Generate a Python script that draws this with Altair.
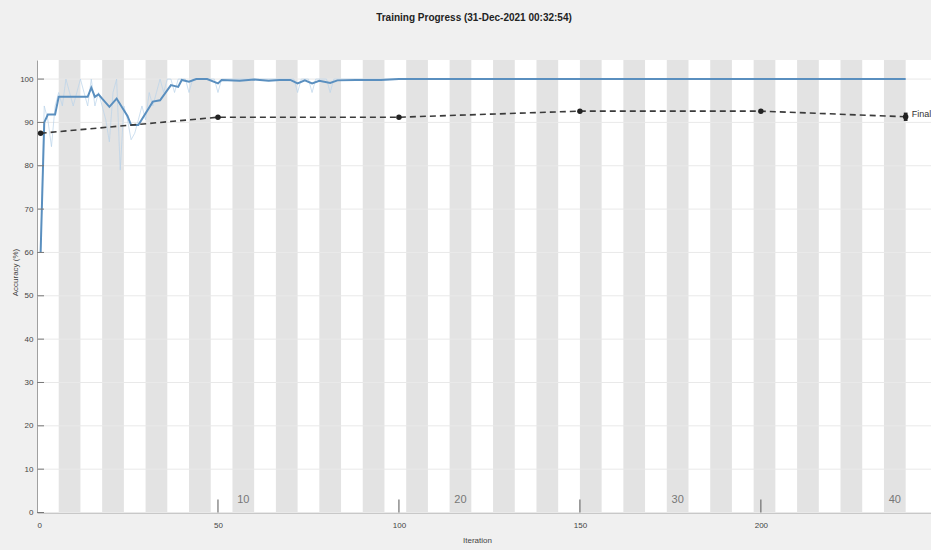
import altair as alt
import pandas as pd

TITLE = "Training Progress (31-Dec-2021 00:32:54)"
FONT = "Liberation Sans"

# Smoothed training accuracy (vertices of the polyline)
smooth_iter = [1, 2, 3, 5, 6, 14, 15, 16, 17, 18, 20, 22, 24, 25, 26, 28, 32, 34,
               37, 39, 40, 42, 44, 47, 50, 51, 56, 60, 64, 67, 70, 72, 74, 76, 78,
               81, 83, 88, 95, 100, 110, 240]
smooth_acc = [60, 90, 91.8, 91.8, 95.9, 95.9, 98.0, 95.9, 96.5, 95.5, 93.6, 95.5,
              92.8, 91.5, 89.4, 89.4, 94.8, 95.1, 98.6, 98.2, 99.8, 99.4, 100, 100,
              99.0, 99.8, 99.6, 99.9, 99.6, 99.8, 99.8, 99.0, 99.7, 99.0, 99.6,
              99.1, 99.7, 99.8, 99.8, 100, 100, 100]

# Raw mini-batch training accuracy
raw_iter = [1, 2, 3, 4, 5, 6, 7, 8, 9, 10, 11, 12, 13, 14, 15, 16, 17, 18, 19, 20,
            21, 22, 23, 24, 25, 26, 27, 28, 29, 30, 31, 32, 33, 34, 35, 36, 37, 38,
            39, 40, 41, 42, 43, 44, 45, 46, 47, 48, 49, 50, 51, 71, 72, 73, 75, 76,
            77, 80, 81, 82, 240]
raw_acc = [60, 93.8, 90.6, 84.4, 93.8, 96.9, 93.8, 100, 96.9, 93.8, 96.9, 100,
           96.9, 93.8, 100, 93.8, 96.9, 93.8, 90.6, 85.5, 96.9, 100, 79.0, 93.8,
           90.6, 86.0, 87.5, 90.6, 93.8, 90.6, 96.9, 93.8, 96.9, 100, 96.9, 100,
           100, 96.9, 100, 100, 100, 96.9, 100, 100, 100, 100, 100, 100, 100, 96.9,
           100, 100, 96.9, 100, 100, 96.9, 100, 100, 96.9, 100, 100]

# Validation accuracy
val_iter = [1, 50, 100, 150, 200, 240]
val_acc = [87.5, 91.2, 91.2, 92.6, 92.6, 91.3]

epochs = list(range(1, 41))
iters_per_epoch = 6
epoch_labels = [10, 20, 30, 40]
x_ticks = [0, 50, 100, 150, 200]
x_inner_ticks = [50, 100, 150, 200]
y_ticks = [0, 10, 20, 30, 40, 50, 60, 70, 80, 90, 100]

W, H = 894, 452.5
X_DOMAIN = [0, 247]
Y_DOMAIN = [0, 104.4]


def xenc(field):
    return alt.X(
        f"{field}:Q",
        scale=alt.Scale(domain=X_DOMAIN, nice=False, zero=False),
        axis=alt.Axis(values=x_ticks, ticks=False, grid=False, domainColor="#a0a0a0",
                      labelFontSize=8, labelColor="#444", labelPadding=9, labelFont=FONT,
                      title="Iteration", titleFontSize=8, titleFontWeight="normal",
                      titleColor="#444", titleFont=FONT, titleX=440, titleY=24),
    )


def yenc(field):
    return alt.Y(
        f"{field}:Q",
        scale=alt.Scale(domain=Y_DOMAIN, nice=False, zero=False),
        axis=alt.Axis(values=y_ticks, ticks=False, grid=False, domainColor="#a0a0a0",
                      labelFontSize=8, labelColor="#444", labelPadding=4, labelFont=FONT,
                      title="Accuracy (%)", titleFontSize=8, titleFontWeight="normal",
                      titleColor="#444", titleFont=FONT, titleX=-18, titleY=212),
    )


epoch_df = pd.DataFrame({"epoch": epochs})
epoch_df["start"] = (epoch_df["epoch"] - 1) * iters_per_epoch
epoch_df["end"] = epoch_df["epoch"] * iters_per_epoch
shaded = epoch_df[epoch_df["epoch"] % 2 == 0]

label_df = pd.DataFrame({"epoch": epoch_labels})
label_df["center"] = (label_df["epoch"] - 0.5) * iters_per_epoch

smooth_df = pd.DataFrame({"iteration": smooth_iter, "acc": smooth_acc})
raw_df = pd.DataFrame({"iteration": raw_iter, "acc": raw_acc})
val_df = pd.DataFrame({"iteration": val_iter, "acc": val_acc})
ytick_df = pd.DataFrame({"v": y_ticks})
xtick_df = pd.DataFrame({"v": x_inner_ticks})
final_df = val_df.tail(1)

bands = alt.Chart(shaded).mark_rect(color="#e3e3e3").encode(
    x=xenc("start"), x2="end", y=alt.value(0), y2=alt.value(H)
)

grid = alt.Chart(ytick_df).mark_rule(color="#e9e9e9", strokeWidth=1).encode(
    y=yenc("v"), x=alt.value(0), x2=alt.value(W)
)

ytick_marks = alt.Chart(ytick_df).mark_rule(color="#777", strokeWidth=1).encode(
    y=yenc("v"), x=alt.value(0), x2=alt.value(7)
)

xtick_marks = alt.Chart(xtick_df).mark_rule(color="#555", strokeWidth=1).encode(
    x=xenc("v"), y=alt.value(H), y2=alt.value(H - 13)
)

epoch_text = alt.Chart(label_df).mark_text(
    font=FONT, fontSize=11, color="#777", baseline="middle"
).encode(x=xenc("center"), y=alt.value(440), text="epoch:Q")

raw_line = alt.Chart(raw_df).mark_line(
    color="#b9d3ea", strokeWidth=1, opacity=0.7, clip=True
).encode(x=xenc("iteration"), y=yenc("acc"))

smooth_line = alt.Chart(smooth_df).mark_line(
    color="#5a8fbf", strokeWidth=2, clip=True
).encode(x=xenc("iteration"), y=yenc("acc"))

val_line = alt.Chart(val_df).mark_line(
    color="#3a3a3a", strokeWidth=1.6, strokeDash=[6, 4],
    point=alt.OverlayMarkDef(filled=True, color="#222", size=30),
).encode(x=xenc("iteration"), y=yenc("acc"))

final_mark = alt.Chart(final_df).mark_point(
    shape="M-0.45,-1L0.45,-1L0.45,1L-0.45,1Z", filled=True, color="#222",
    size=70, opacity=1
).encode(x=xenc("iteration"), y=yenc("acc"))

final_text = alt.Chart(final_df).mark_text(
    text="Final", font=FONT, fontSize=9, color="#333", align="left", dx=6, dy=-3
).encode(x=xenc("iteration"), y=yenc("acc"))

chart = alt.layer(
    bands, grid, raw_line, smooth_line, val_line, final_mark, final_text,
    ytick_marks, xtick_marks, epoch_text
).properties(
    width=W, height=H,
    title=alt.TitleParams(TITLE, fontSize=10, fontWeight="bold", font=FONT,
                          color="#222", anchor="middle", offset=37, dx=-10),
    autosize=alt.AutoSizeParams(type="none"),
    padding={"left": 37, "top": 60, "right": 0, "bottom": 37.5},
    background="#f0f0f0",
).configure_view(fill="white", stroke=None)

chart.save("out.html", embed_options={"renderer": "svg", "actions": False})
